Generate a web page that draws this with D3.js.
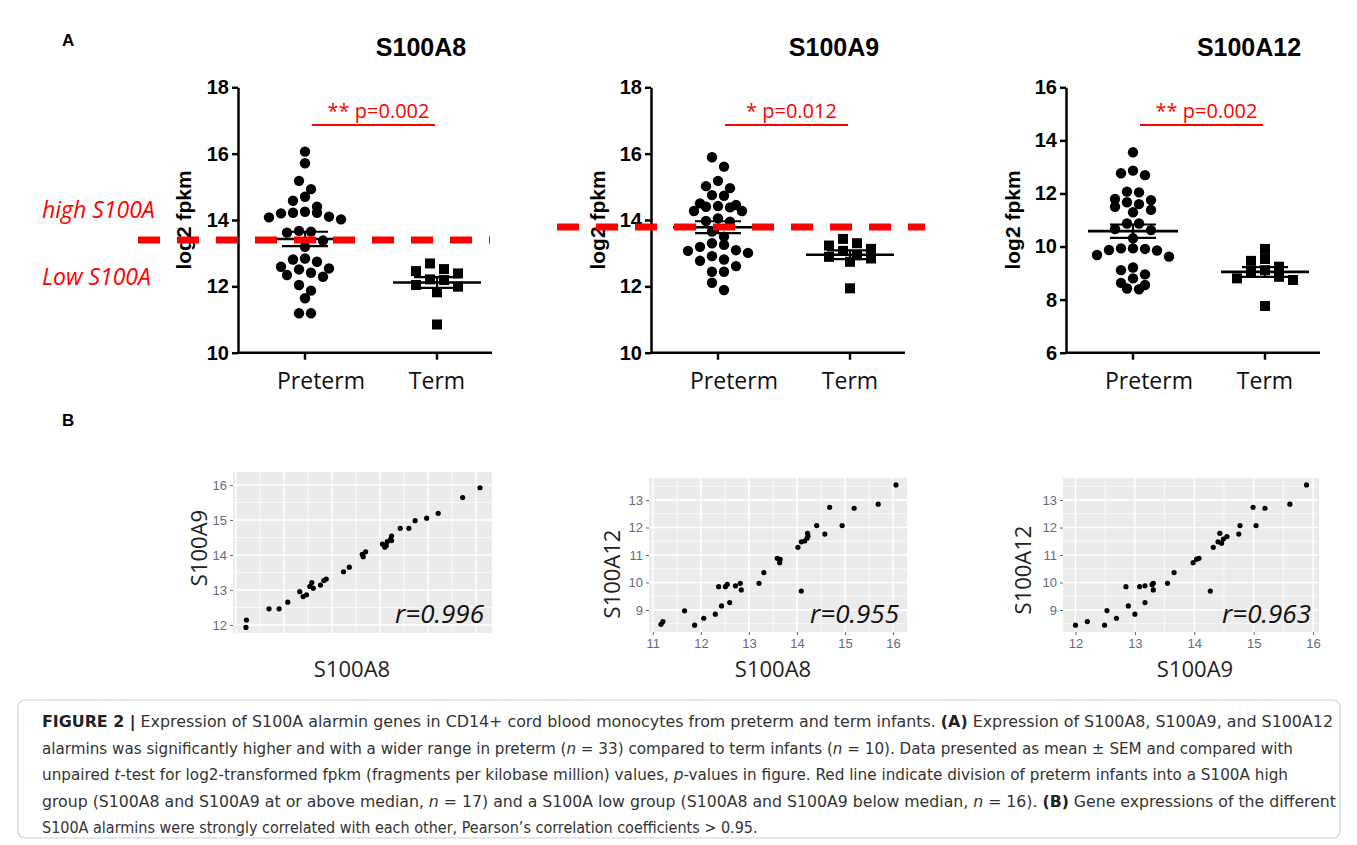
<!DOCTYPE html>
<html><head><meta charset="utf-8">
<script src="https://cdn.jsdelivr.net/npm/d3@7"></script>
<style>body{margin:0;background:#fff}svg{display:block}</style>
</head><body>
<svg id="fig" width="1357" height="845"></svg>
<script>
// ---------- DATA (panel A) ----------
const groups = ["Preterm", "Term"];
const geneNames = ["S100A8", "S100A9", "S100A12"];
const a8Preterm = [16.06,15.71,15.18,14.93,14.58,14.70,14.40,14.22,14.20,14.10,14.08,14.22,14.25,14.02,13.67,13.62,13.65,13.38,13.19,12.81,12.59,12.51,12.84,12.34,12.41,12.29,12.54,12.74,12.04,11.87,11.64,11.19,11.19];
const a8Term = [12.69,12.52,12.39,12.46,12.19,12.21,11.99,11.82,12.04,10.85];
const a9Preterm = [15.89,15.61,15.18,14.96,15.02,14.73,14.75,14.50,14.42,14.38,14.27,14.27,14.40,14.45,13.97,14.05,13.95,13.65,13.50,13.30,13.19,13.07,12.91,13.01,13.09,13.25,12.77,12.81,12.61,12.44,12.44,12.11,11.89];
const a9Term = [13.43,13.13,13.23,13.30,13.07,12.94,12.84,12.74,12.89,11.94];
const a12Preterm = [13.55,12.86,12.69,12.76,12.07,12.04,11.79,11.67,11.50,11.29,11.38,11.60,11.75,10.87,10.66,10.62,10.87,10.31,9.93,9.91,9.85,9.68,9.62,9.87,9.93,9.21,9.11,8.80,8.55,8.39,8.42,8.63,8.95];
const a12Term = [9.91,9.24,9.46,9.53,9.11,9.03,8.80,8.74,8.86,7.76];
const yTicksA8 = [10,12,14,16,18];
const yTicksA9 = [10,12,14,16,18];
const yTicksA12 = [6,8,10,12,14,16];
const pLabels = ["** p=0.002", "* p=0.012", "** p=0.002"];
const medianCut = [13.40, 13.79];
const cutLabels = ["high S100A", "Low S100A"];

// ---------- DATA (panel B) ----------
const s1x = [11.22,11.21,11.69,11.90,12.08,12.33,12.40,12.47,12.58,12.61,12.76,12.83,12.88,12.54,13.24,13.36,13.63,13.65,13.70,14.05,14.13,14.15,14.22,14.24,14.24,14.10,14.42,14.60,14.73,14.97,15.21,15.72,16.08];
const s1y = [12.14,11.93,12.46,12.46,12.65,12.95,12.81,12.86,13.21,13.05,13.14,13.27,13.31,13.10,13.52,13.65,14.02,13.95,14.09,14.31,14.27,14.38,14.45,14.54,14.41,14.22,14.76,14.76,14.98,15.05,15.19,15.64,15.92];
const s2x = [11.17,11.21,11.66,11.87,12.06,12.30,12.43,12.60,12.37,12.51,12.55,12.72,12.82,12.84,13.21,13.31,13.59,13.65,13.64,14.02,14.09,14.16,14.21,14.23,14.22,14.09,14.41,14.58,14.68,14.94,15.19,15.69,16.06];
const s2y = [8.48,8.58,8.97,8.45,8.70,8.85,9.15,9.27,9.85,9.85,9.93,9.88,9.97,9.73,9.97,10.36,10.88,10.84,10.72,11.28,11.48,11.51,11.61,11.69,11.79,9.69,12.07,11.76,12.73,12.07,12.70,12.85,13.55];
const s3x = [12.00,12.20,12.49,12.53,12.69,12.85,12.89,13.00,13.08,13.17,13.17,13.31,13.31,13.29,13.55,13.66,13.98,14.04,14.08,14.32,14.27,14.40,14.43,14.46,14.49,14.55,14.75,14.77,14.99,15.04,15.19,15.61,15.89];
const s3y = [8.45,8.58,8.45,8.98,8.70,9.85,9.15,8.85,9.85,9.88,9.27,9.97,9.73,9.92,9.97,10.36,10.72,10.85,10.88,11.28,9.69,11.48,11.79,11.43,11.58,11.67,11.76,12.07,12.73,12.07,12.70,12.85,13.55];
const rLabels = ["r=0.996", "r=0.955", "r=0.963"];
const xTitles = ["S100A8", "S100A8", "S100A9"];
const yTitles = ["S100A9", "S100A12", "S100A12"];
const s1xDomain = [10.94, 16.33], s1yDomain = [11.77, 16.37];
const s2xDomain = [10.92, 16.29], s2yDomain = [8.2, 13.8];
const s3xDomain = [11.79, 16.10], s3yDomain = [8.2, 13.8];

// ---------- DRAW ----------
const svg = d3.select("#fig");
const RED = "#ff0000";
const sansB = "'Liberation Sans', Arial, sans-serif";
const cal = "'Open Sans', 'Liberation Sans', sans-serif";

svg.append("text").attr("x", 62).attr("y", 46).attr("font-family", sansB).attr("font-weight", "bold").attr("font-size", 17).text("A");
svg.append("text").attr("x", 62).attr("y", 426).attr("font-family", sansB).attr("font-weight", "bold").attr("font-size", 17).text("B");

const panelsA = [
  {x0: 238, pre: a8Preterm, term: a8Term, ticks: yTicksA8, cut: medianCut[0], dash: [138, 490], ylab: 191},
  {x0: 651, pre: a9Preterm, term: a9Term, ticks: yTicksA9, cut: medianCut[1], dash: [557, 925], ylab: 605},
  {x0: 1066, pre: a12Preterm, term: a12Term, ticks: yTicksA12, cut: null, ylab: 1020}
];
const yTop = 87.3, yBot = 352.7;

// GraphPad-like scatter: group close values into rows, spread each row symmetrically
function rowSwarm(values, yS, cx, rowH, step) {
  const pts = values.map(v => ({v, y: yS(v)})).sort((a, b) => a.y - b.y);
  const rows = [];
  let cur = null;
  for (const p of pts) {
    if (!cur || p.y - cur[0].y > rowH) { cur = [p]; rows.push(cur); } else cur.push(p);
  }
  const out = [];
  rows.forEach(r => {
    const n = r.length;
    const slots = d3.range(n).map(k => (k - (n - 1) / 2) * step);
    const slotOrder = slots.slice().sort((a, b) => Math.abs(a) - Math.abs(b) || a - b);
    r.forEach((p, k) => out.push({v: p.v, x: cx + slotOrder[k], y: p.y}));
  });
  return out;
}

panelsA.forEach((P, i) => {
  const g = svg.append("g");
  const y = d3.scaleLinear().domain(d3.extent(P.ticks)).range([yBot, yTop]);
  const x = d3.scalePoint().domain(groups).range([P.x0 + 67, P.x0 + 199]);
  const xEnd = P.x0 + 254;
  g.append("text").attr("x", P.x0 + 183).attr("y", 56).attr("text-anchor", "middle")
    .attr("font-family", sansB).attr("font-weight", "bold").attr("font-size", 25).text(geneNames[i]);
  const ya = g.append("g").attr("transform", `translate(${P.x0},0)`)
    .call(d3.axisLeft(y).tickValues(P.ticks).tickSize(6).tickSizeOuter(0).tickPadding(3));
  ya.select(".domain").attr("stroke-width", 2.5);
  ya.selectAll(".tick line").attr("stroke-width", 2.5);
  ya.selectAll(".tick text").attr("font-family", sansB).attr("font-weight", "bold").attr("font-size", 20).attr("fill", "#000");
  g.append("line").attr("x1", P.x0).attr("x2", xEnd).attr("y1", yBot).attr("y2", yBot).attr("stroke", "#000").attr("stroke-width", 2.5);
  groups.forEach((gr, k) => {
    g.append("line").attr("x1", x(gr)).attr("x2", x(gr)).attr("y1", yBot).attr("y2", yBot + 7).attr("stroke", "#000").attr("stroke-width", 2.5);
    g.append("text").attr("x", x(gr) + (k === 0 ? 16 : 0)).attr("y", 389).attr("text-anchor", "middle")
      .attr("font-family", cal).attr("font-size", 23).attr("fill", "#111").text(gr);
  });
  g.append("text").attr("transform", `translate(${P.ylab},220) rotate(-90)`).attr("text-anchor", "middle")
    .attr("font-family", sansB).attr("font-weight", "bold").attr("font-size", 21).text("log2 fpkm");
  const preP = rowSwarm(P.pre, y, x("Preterm"), 10, 12);
  g.selectAll("circle.pt").data(preP).join("circle").attr("class", "pt")
    .attr("cx", d => d.x).attr("cy", d => d.y).attr("r", 5.2).attr("fill", "#000");
  const termP = rowSwarm(P.term, y, x("Term"), 10, 14);
  g.selectAll("rect.pt").data(termP).join("rect").attr("class", "pt")
    .attr("x", d => d.x - 5).attr("y", d => d.y - 5).attr("width", 10).attr("height", 10).attr("fill", "#000");
  [["Preterm", P.pre, 45], ["Term", P.term, 44]].forEach(([gr, vals, hw]) => {
    const m = d3.mean(vals), sem = d3.deviation(vals) / Math.sqrt(vals.length);
    const cx = x(gr);
    g.append("line").attr("x1", cx - hw).attr("x2", cx + hw).attr("y1", y(m)).attr("y2", y(m)).attr("stroke", "#000").attr("stroke-width", 2.6);
    [m - sem, m + sem].forEach(v => g.append("line").attr("x1", cx - 23).attr("x2", cx + 23).attr("y1", y(v)).attr("y2", y(v)).attr("stroke", "#000").attr("stroke-width", 2.2));
    g.append("line").attr("x1", cx).attr("x2", cx).attr("y1", y(m - sem)).attr("y2", y(m + sem)).attr("stroke", "#000").attr("stroke-width", 2.2);
  });
  const bx1 = x("Preterm") + 7, bx2 = x("Term") - 2;
  g.append("line").attr("x1", bx1).attr("x2", bx2).attr("y1", 125).attr("y2", 125).attr("stroke", RED).attr("stroke-width", 2.2);
  g.append("text").attr("x", (bx1 + bx2) / 2 + 5).attr("y", 118).attr("text-anchor", "middle")
    .attr("font-family", cal).attr("font-size", 20).attr("fill", RED).text(pLabels[i]);
  if (P.cut !== null) {
    g.append("line").attr("x1", P.dash[0]).attr("x2", P.dash[1]).attr("y1", y(P.cut)).attr("y2", y(P.cut))
      .attr("stroke", RED).attr("stroke-width", 7).attr("stroke-dasharray", "22,17");
  }
});
svg.append("text").attr("x", 42).attr("y", 218).attr("font-family", cal).attr("font-style", "italic").attr("font-size", 23).attr("fill", RED).text(cutLabels[0]);
svg.append("text").attr("x", 42).attr("y", 285).attr("font-family", cal).attr("font-style", "italic").attr("font-size", 23).attr("fill", RED).text(cutLabels[1]);

// ---------- PANEL B ----------
const panelsB = [
  {xs: s1x, ys: s1y, xd: s1xDomain, yd: s1yDomain, r: [233, 492, 472, 633], xTicks: false, xt: 352, yt: 207, ytc: 548},
  {xs: s2x, ys: s2y, xd: s2xDomain, yd: s2yDomain, r: [649, 907, 478, 632], xTicks: true, xt: 773, yt: 620, ytc: 574},
  {xs: s3x, ys: s3y, xd: s3xDomain, yd: s3yDomain, r: [1063, 1319, 478, 632], xTicks: true, xt: 1195, yt: 1031, ytc: 570}
];
panelsB.forEach((P, i) => {
  const g = svg.append("g");
  const [L, R, T, B] = P.r;
  const x = d3.scaleLinear().domain(P.xd).range([L, R]);
  const y = d3.scaleLinear().domain(P.yd).range([B, T]);
  g.append("rect").attr("x", L).attr("y", T).attr("width", R - L).attr("height", B - T).attr("fill", "#EBEBEB");
  const xMaj = d3.range(Math.ceil(P.xd[0]), Math.floor(P.xd[1]) + 1);
  const yMaj = d3.range(Math.ceil(P.yd[0]), Math.floor(P.yd[1]) + 1);
  const xMin = d3.range(Math.ceil(P.xd[0] - 0.5) + 0.5, P.xd[1], 1).filter(v => v > P.xd[0]);
  const yMin = d3.range(Math.ceil(P.yd[0] - 0.5) + 0.5, P.yd[1], 1).filter(v => v > P.yd[0]);
  xMin.forEach(v => g.append("line").attr("x1", x(v)).attr("x2", x(v)).attr("y1", T).attr("y2", B).attr("stroke", "#fff").attr("stroke-width", 0.7));
  yMin.forEach(v => g.append("line").attr("x1", L).attr("x2", R).attr("y1", y(v)).attr("y2", y(v)).attr("stroke", "#fff").attr("stroke-width", 0.7));
  xMaj.forEach(v => g.append("line").attr("x1", x(v)).attr("x2", x(v)).attr("y1", T).attr("y2", B).attr("stroke", "#fff").attr("stroke-width", 1.4));
  yMaj.forEach(v => g.append("line").attr("x1", L).attr("x2", R).attr("y1", y(v)).attr("y2", y(v)).attr("stroke", "#fff").attr("stroke-width", 1.4));
  const ya = g.append("g").attr("transform", `translate(${L},0)`).call(d3.axisLeft(y).tickValues(yMaj).tickFormat(d3.format("d")).tickSize(3).tickPadding(3));
  ya.select(".domain").remove();
  ya.selectAll(".tick line").attr("stroke", "#444").attr("stroke-width", 0.8);
  ya.selectAll(".tick text").attr("font-family", sansB).attr("font-size", 13).attr("fill", "#6a6684");
  if (P.xTicks) {
    const xa = g.append("g").attr("transform", `translate(0,${B})`).call(d3.axisBottom(x).tickValues(xMaj).tickFormat(d3.format("d")).tickSize(3).tickPadding(4));
    xa.select(".domain").remove();
    xa.selectAll(".tick line").attr("stroke", "#444").attr("stroke-width", 0.8);
    xa.selectAll(".tick text").attr("font-family", sansB).attr("font-size", 13).attr("fill", "#6a6684");
  }
  g.selectAll("circle").data(P.xs.map((v, k) => [v, P.ys[k]])).join("circle")
    .attr("cx", d => x(d[0])).attr("cy", d => y(d[1])).attr("r", 2.6).attr("fill", "#000");
  g.append("text").attr("x", R - 8).attr("y", 623).attr("text-anchor", "end").attr("font-family", cal)
    .attr("font-style", "italic").attr("font-size", 26).attr("fill", "#111").text(rLabels[i]);
  g.append("text").attr("x", P.xt).attr("y", 677).attr("text-anchor", "middle").attr("font-family", cal)
    .attr("font-size", 22).attr("fill", "#222").text(xTitles[i]);
  g.append("text").attr("transform", `translate(${P.yt},${P.ytc}) rotate(-90)`).attr("text-anchor", "middle").attr("font-family", cal)
    .attr("font-size", 22).attr("fill", "#222").text(yTitles[i]);
});

// ---------- CAPTION ----------
svg.append("rect").attr("x", 18).attr("y", 700).attr("width", 1322).attr("height", 138).attr("rx", 7)
  .attr("fill", "#fff").attr("stroke", "#c9d2dc").attr("stroke-width", 1.2);
const capLines = [
  {w: 1291, segs: [["FIGURE 2 |", "b"], [" Expression of S100A alarmin genes in CD14+ cord blood monocytes from preterm and term infants. ", ""], ["(A)", "b"], [" Expression of S100A8, S100A9, and S100A12", ""]]},
  {w: 1251, segs: [["alarmins was significantly higher and with a wider range in preterm (", ""], ["n", "i"], [" = 33) compared to term infants (", ""], ["n", "i"], [" = 10). Data presented as mean ± SEM and compared with", ""]]},
  {w: 1246, segs: [["unpaired ", ""], ["t", "i"], ["-test for log2-transformed fpkm (fragments per kilobase million) values, ", ""], ["p", "i"], ["-values in figure. Red line indicate division of preterm infants into a S100A high", ""]]},
  {w: 1294, segs: [["group (S100A8 and S100A9 at or above median, ", ""], ["n", "i"], [" = 17) and a S100A low group (S100A8 and S100A9 below median, ", ""], ["n", "i"], [" = 16). ", ""], ["(B)", "b"], [" Gene expressions of the different", ""]]},
  {w: null, segs: [["S100A alarmins were strongly correlated with each other, Pearson’s correlation coefficients > 0.95.", ""]]}
];
capLines.forEach((ln, k) => {
  const t = svg.append("text").attr("x", 42).attr("y", 727 + k * 26.5)
    .attr("font-family", "'Liberation Sans Narrow', 'DejaVu Sans Condensed', 'Liberation Sans', sans-serif")
    .attr("font-size", 16).attr("fill", "#333");
  if (ln.w) t.attr("textLength", ln.w).attr("lengthAdjust", "spacingAndGlyphs");
  ln.segs.forEach(([s, st]) => {
    const ts = t.append("tspan").text(s);
    if (st === "b") ts.attr("font-weight", "bold").attr("fill", "#222");
    if (st === "i") ts.attr("font-style", "italic");
  });
});
</script>
</body></html>
